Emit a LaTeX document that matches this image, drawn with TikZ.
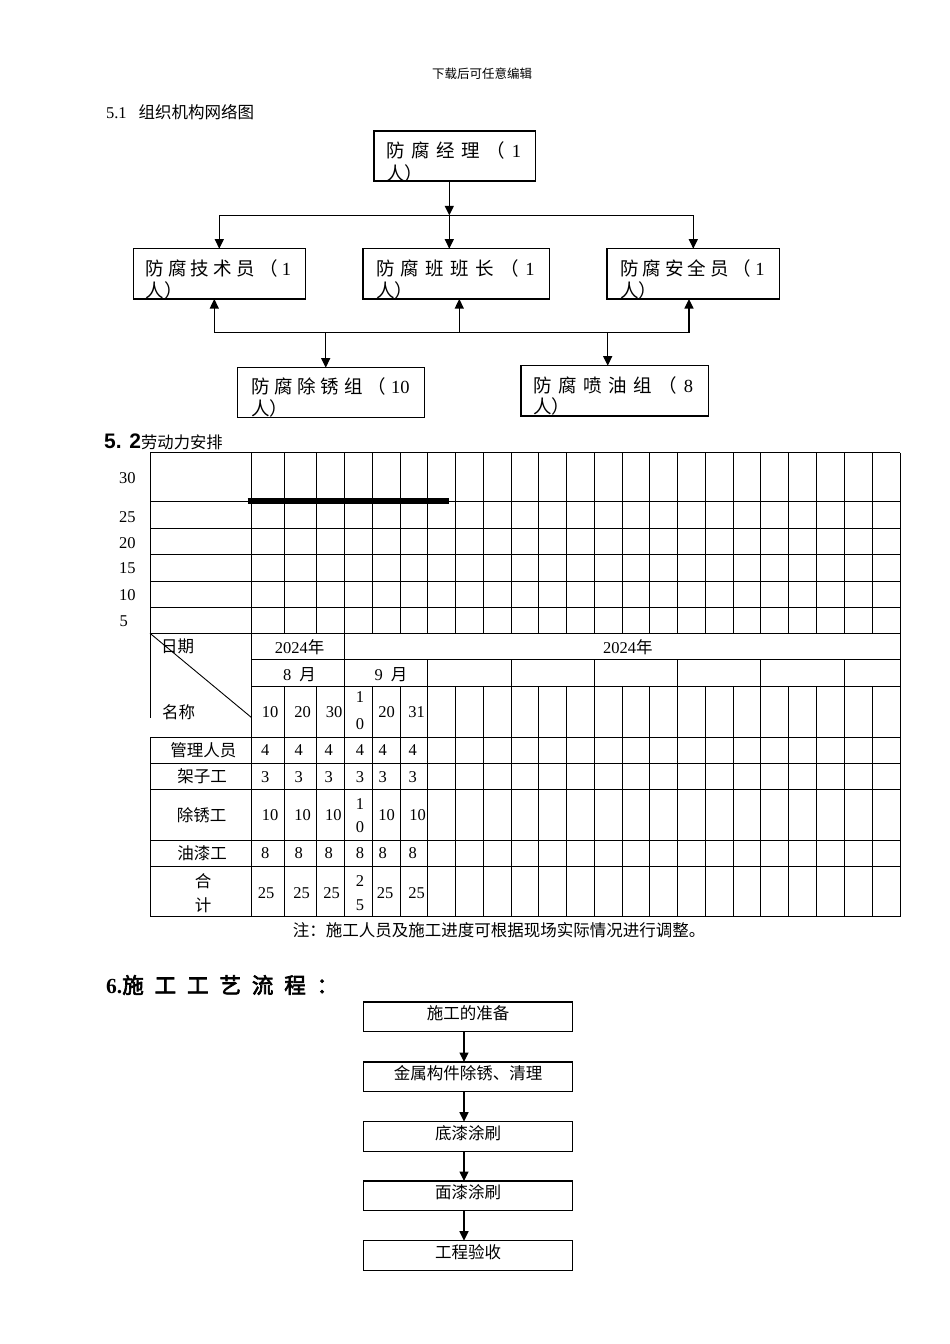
\documentclass[tikz,border=0pt]{standalone}
\usepackage{fontspec}
\setmainfont{Liberation Serif}
\newfontfamily\cjk{Noto Sans CJK SC}
\newfontfamily\cjkb[FakeBold=3]{Noto Sans CJK SC}
\newfontfamily\arialf{Liberation Sans}
\usetikzlibrary{arrows.meta}
\newcommand{\zh}[1]{{\cjk #1}}
\newcommand{\fs}[1]{\fontsize{#1}{#1}\selectfont}
\newcommand{\spreadto}[2]{\makebox[#1pt][l]{#2}}
\begin{document}
\begin{tikzpicture}[x=1pt,y=-1pt,
  txt/.style={inner sep=0pt, outer sep=0pt, font=\fs{16.5}},
  otxt/.style={inner sep=0pt, outer sep=0pt, anchor=west, font=\fs{18.5}\cjk},
  obox/.style={draw, line width=1.3pt, inner sep=0pt, outer sep=0pt, anchor=north west},
  fbox/.style={draw, line width=1.3pt, inner sep=0pt, outer sep=0pt, anchor=north west,
               minimum width=209.4pt, minimum height=29.6pt},
  conn/.style={line width=1.2pt},
  arr/.style={line width=1.2pt, -{Triangle[length=9.5pt,width=9pt]}},
  gline/.style={line width=0.9pt},
]
\useasboundingbox (0,0) rectangle (950,1344);

% ---------- page header and section titles ----------
\node[txt, font=\fs{12.5}] (hdr) at (482,74) {\zh{下载后可任意编辑}};
\node[txt, anchor=west] (s51) at (106,111.7) {5.1\hspace{12pt}\zh{组织机构网络图}};

% ---------- organisation chart ----------
\node[obox, minimum width=161.7pt, minimum height=50pt] (mgr) at (374,131) {};
\node[obox, minimum width=172.5pt, minimum height=50.3pt] (b1) at (133.3,248.7) {};
\node[obox, minimum width=186.5pt, minimum height=50.3pt] (b2) at (363,248.7) {};
\node[obox, minimum width=172.3pt, minimum height=50.3pt] (b3) at (607,248.7) {};
\node[obox, minimum width=186.6pt, minimum height=50pt] (b4) at (237.7,367.7) {};
\node[obox, minimum width=187.3pt, minimum height=50.3pt] (b5) at (521,365.7) {};

\node[otxt] (mgr1) at (386,150.7) {\spreadto{135}{防\hfill 腐\hfill 经\hfill 理\hfill （\hfill {\rmfamily 1}}};
\node[otxt] (mgr2) at (386,173) {人）};
\node[otxt] (b1a) at (145.5,268.2) {\spreadto{145.5}{防\hfill 腐\hfill 技\hfill 术\hfill 员\hfill （\hfill {\rmfamily 1}}};
\node[otxt] (b1b) at (145.5,290) {人）};
\node[otxt] (b2a) at (376,268.2) {\spreadto{158.5}{防\hfill 腐\hfill 班\hfill 班\hfill 长\hfill （\hfill {\rmfamily 1}}};
\node[otxt] (b2b) at (376,290) {人）};
\node[otxt] (b3a) at (620,268.2) {\spreadto{144.5}{防\hfill 腐\hfill 安\hfill 全\hfill 员\hfill （\hfill {\rmfamily 1}}};
\node[otxt] (b3b) at (620,290) {人）};
\node[otxt] (b4a) at (251,386.7) {\spreadto{158.5}{防\hfill 腐\hfill 除\hfill 锈\hfill 组\hfill （\hfill {\rmfamily 10}}};
\node[otxt] (b4b) at (251,408.3) {人）};
\node[otxt] (b5a) at (533.3,385) {\spreadto{159.7}{防\hfill 腐\hfill 喷\hfill 油\hfill 组\hfill （\hfill {\rmfamily 8}}};
\node[otxt] (b5b) at (533.3,406.7) {人）};

\coordinate (j0) at (449.3,215.3);
\coordinate (jl) at (219.3,215.3);
\coordinate (jr) at (693.3,215.3);
\draw[arr] (mgr.south -| j0) -- (j0);
\draw[conn] (jl) -- (jr);
\draw[arr] (jl) -- (jl |- b1.north);
\draw[arr] (j0) -- (j0 |- b2.north);
\draw[arr] (jr) -- (jr |- b3.north);

\coordinate (kl) at (214.3,332.7);
\coordinate (kr) at (689,332.7);
\coordinate (k2) at (459.3,332.7);
\coordinate (k4) at (325.7,332.7);
\coordinate (k5) at (607.7,332.7);
\draw[conn] (kl) -- (kr);
\draw[arr] (kl) -- (kl |- b1.south);
\draw[arr] (k2) -- (k2 |- b2.south);
\draw[arr] (kr) -- (kr |- b3.south);
\draw[arr] (k4) -- (k4 |- b4.north);
\draw[arr] (k5) -- (k5 |- b5.north);

% ---------- 5.2 labour chart ----------
\node[inner sep=0pt, anchor=west] (s52) at (104,442) {{\arialf\bfseries\fs{21}5. 2}{\cjk\fs{16.3}劳动力安排}};

\foreach \x in {251.7,284.3,316.7,344.3,372.3,400,427.7,455.3,483.3,511,538.7,566.7,594.3,622,649.7,677.3,705.3,733,760.7,788.3,816.3,844,872,900}
  \draw[gline] (\x,452.7) -- (\x,633.3);
\foreach \y in {452.7,501.3,528.3,554.7,581,607.3,633.3}
  \draw[gline] (150,\y) -- (900,\y);
\draw[gline] (150,452.7) -- (150,717.7);
\draw[line width=6pt] (247.7,501.3) -- (449,501.3);

\node[txt, anchor=west] (ax30) at (119,478) {30};
\node[txt, anchor=west] (ax25) at (119,517) {25};
\node[txt, anchor=west] (ax20) at (119,542.7) {20};
\node[txt, anchor=west] (ax15) at (119,568) {15};
\node[txt, anchor=west] (ax10) at (119,595) {10};
\node[txt, anchor=west] (ax5) at (119.5,620.7) {5};

% table lines
\draw[gline] (251.7,633.3) -- (251.7,916.7);
\draw[gline] (344.3,633.3) -- (344.3,916.7);
\draw[gline] (900,633.3) -- (900,916.7);
\draw[gline] (251.7,659.3) -- (900,659.3);
\foreach \x in {427.7,511,594.3,677.3,760.7,844}
  \draw[gline] (\x,659.3) -- (\x,916.7);
\draw[gline] (251.7,686) -- (900,686);
\foreach \x in {284.3,316.7,372.3,400,455.3,483.3,538.7,566.7,622,649.7,705.3,733,788.3,816.3,872}
  \draw[gline] (\x,686) -- (\x,916.7);
\foreach \y in {737.3,763.3,789.3,840,866.7,916.7}
  \draw[gline] (150,\y) -- (900,\y);
\draw[gline] (150,737.3) -- (150,916.7);
\draw[gline] (150,633.3) -- (251.7,717.7);

% header texts
\node[txt, anchor=west] (riqi) at (161,646) {\zh{日期}};
\node[txt, anchor=west] (mc) at (162,712.7) {\zh{名称}};
\node[txt] (yr1) at (299.5,647) {2024\zh{年}};
\node[txt] (yr2) at (627.8,646.7) {2024\zh{年}};
\node[txt] (mo8) at (299.5,674.3) {8\hspace{8pt}\zh{月}};
\node[txt] (mo9) at (391,674.3) {9\hspace{8pt}\zh{月}};
\foreach \x/\v [count=\i] in {270/10,302.7/20,334/30,386.7/20,416.7/31}
  \node[txt] (d\i) at (\x,712) {\v};
\node[txt] (d0a) at (360,697) {1};
\node[txt] (d0b) at (360,724) {0};

% row labels
\node[txt] (l1) at (203.3,750) {\zh{管理人员}};
\node[txt] (l2) at (202,776.7) {\zh{架子工}};
\node[txt] (l3) at (201.5,815) {\zh{除锈工}};
\node[txt] (l4) at (202,853.3) {\zh{油漆工}};
\node[txt] (l5a) at (203,880.7) {\zh{合}};
\node[txt] (l5b) at (203,905) {\zh{计}};

% values
\foreach \x [count=\i] in {265.3,298.7,328.7,360,382.7,412.7}{
  \node[txt] (ra\i) at (\x,750) {4};
  \node[txt] (rb\i) at (\x,776.7) {3};
  \node[txt] (rd\i) at (\x,853.3) {8};
}
\foreach \x [count=\i] in {270,302.7,333.3,386.7,417.7}
  \node[txt] (rc\i) at (\x,815) {10};
\node[txt] (rc0a) at (360,804) {1};
\node[txt] (rc0b) at (360,826.7) {0};
\foreach \x [count=\i] in {266,301.7,331.7,385,416.7}
  \node[txt] (re\i) at (\x,893.3) {25};
\node[txt] (re0a) at (360,880.7) {2};
\node[txt] (re0b) at (360,905) {5};

\node[txt] (note) at (499,930) {\zh{注：施工人员及施工进度可根据现场实际情况进行调整。}};

% ---------- 6 process flow ----------
\node[inner sep=0pt, anchor=west] (s6) at (106,985)
  {\fs{21.5}\makebox[232pt][l]{{\rmfamily\bfseries 6.}{\cjkb 施}\hfill{\cjkb 工}\hfill{\cjkb 工}\hfill{\cjkb 艺}\hfill{\cjkb 流}\hfill{\cjkb 程}\hfill{\cjkb ：}}};

\node[fbox] (f1) at (363.3,1002) {};
\node[fbox] (f2) at (363.3,1062) {};
\node[fbox] (f3) at (363.3,1121.7) {};
\node[fbox] (f4) at (363.3,1181) {};
\node[fbox] (f5) at (363.3,1240.7) {};
\node[txt] (ft1) at (468,1013.3) {\zh{施工的准备}};
\node[txt] (ft2) at (468,1073) {\zh{金属构件除锈、清理}};
\node[txt] (ft3) at (468,1133.3) {\zh{底漆涂刷}};
\node[txt] (ft4) at (468,1192.3) {\zh{面漆涂刷}};
\node[txt] (ft5) at (468,1251.7) {\zh{工程验收}};
\coordinate (fx) at (464,0);
\foreach \i/\j in {1/2,2/3,3/4,4/5}
  \draw[arr] (f\i.south -| fx) -- (f\j.north -| fx);
\end{tikzpicture}
\end{document}
